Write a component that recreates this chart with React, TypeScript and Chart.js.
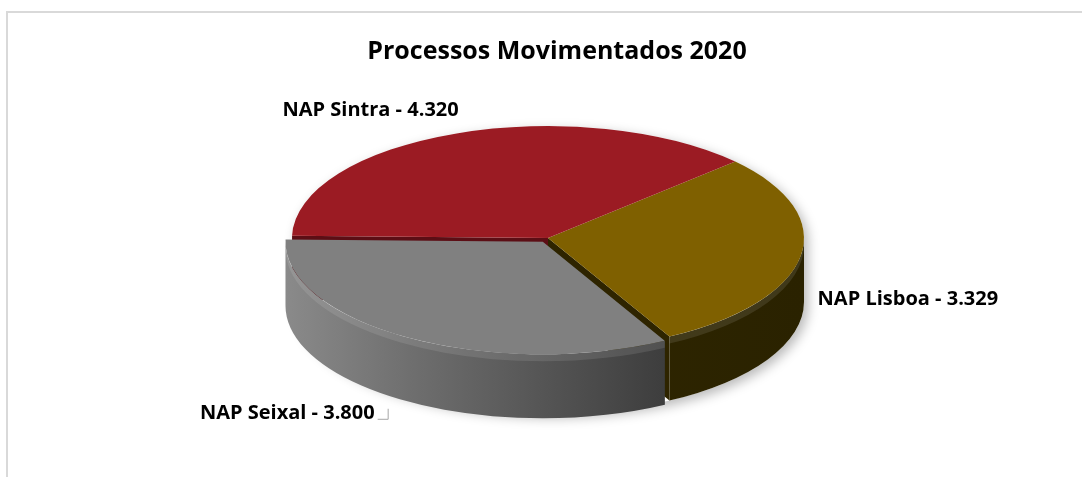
import React, { useEffect, useRef } from "react";
import { Chart, registerables } from "chart.js";

Chart.register(...registerables);

// ---- data ----
const chartTitle = "Processos Movimentados 2020";
const categories = ["NAP Lisboa", "NAP Seixal", "NAP Sintra"];
const processos = [3329, 3800, 4320];

// ---- style ----
const topColors = ["#7F6000", "#808080", "#9B1B23"];
const sideColors = [
  ["#3a2e00", "#2f2600", "#2a2200"],
  ["#8a8a8a", "#6e6e6e", "#555555", "#3c3c3c", "#2c2c2c"],
  ["#5e0f15", "#5a0d13"],
];
const wallColors = ["#2e2400", "#5c5c5c", "#5c0e15"];
const explodeOffsets = [0, 40, 0];
const SQUASH = 0.4375; // vertical ratio of the pie ellipse
const DEPTH = 64; // thickness in px
const PIE_RADIUS = 256;
const FONT = "'Open Sans', 'Liberation Sans', sans-serif";
const labelPlacement = [
  { dx: 17, dy: 49, align: "left", leader: false },
  { dx: -34, dy: 81, align: "right", leader: true },
  { dx: -86, dy: -17, align: "center", leader: false },
];

const fmt = (v: number) => String(v).replace(/\B(?=(\d{3})+(?!\d))/g, ".");

function sliceGeo(arc: any, i: number) {
  const off = (explodeOffsets[i] || 0) / 4;
  const mid = (arc.startAngle + arc.endAngle) / 2;
  const circ = arc.endAngle - arc.startAngle;
  const fix = 1 - Math.sin(Math.min(Math.PI, circ));
  return {
    x: arc.x + Math.cos(mid) * off,
    y: arc.y + Math.sin(mid) * off,
    s: arc.startAngle,
    e: arc.endAngle,
    mid,
    r: arc.outerRadius + off * fix,
  };
}

const pie3d = {
  id: "pie3d",
  beforeDatasetsDraw(chart: any) {
    const meta = chart.getDatasetMeta(0);
    const arcs = meta.data as any[];
    const ctx: CanvasRenderingContext2D = chart.ctx;
    ctx.save();
    if (!arcs.length) return;
    const n = arcs.length;
    const cx = arcs[0].x;
    const cy = arcs[0].y;
    const r0 = arcs[0].outerRadius;
    const ds = DEPTH / SQUASH;
    ctx.translate(cx, cy);
    ctx.scale(1, SQUASH);
    ctx.translate(-cx, -cy);

    // soft shadow under the whole pie
    ctx.save();
    ctx.shadowColor = "rgba(0,0,0,0.28)";
    ctx.shadowBlur = 12;
    ctx.shadowOffsetX = 4;
    ctx.shadowOffsetY = 4;
    ctx.fillStyle = "#ffffff";
    ctx.beginPath();
    ctx.arc(cx, cy, r0, Math.PI, 0, false);
    ctx.arc(cx, cy + ds, r0, 0, Math.PI, false);
    ctx.closePath();
    ctx.fill();
    ctx.restore();

    const geos = arcs.map((a, i) => sliceGeo(a, i));

    // radial walls: only where the neighbouring slice is pulled apart, and facing the viewer
    geos.forEach((g, i) => {
      const prev = (i - 1 + n) % n;
      const next = (i + 1) % n;
      const walls: number[] = [];
      if (Math.cos(g.s) < 0 && explodeOffsets[prev] !== explodeOffsets[i]) walls.push(g.s);
      if (Math.cos(g.e) > 0 && explodeOffsets[next] !== explodeOffsets[i]) walls.push(g.e);
      walls.forEach((a) => {
        const ex = g.x + Math.cos(a) * g.r;
        const ey = g.y + Math.sin(a) * g.r;
        ctx.beginPath();
        ctx.moveTo(g.x, g.y);
        ctx.lineTo(ex, ey);
        ctx.lineTo(ex, ey + ds);
        ctx.lineTo(g.x, g.y + ds);
        ctx.closePath();
        ctx.fillStyle = wallColors[i];
        ctx.fill();
      });
    });

    // outer curved walls (front half only)
    geos.forEach((g, i) => {
      const ranges: [number, number][] = [];
      for (const base of [-2 * Math.PI, 0, 2 * Math.PI]) {
        const a0 = Math.max(g.s, base);
        const a1 = Math.min(g.e, base + Math.PI);
        if (a1 > a0) ranges.push([a0, a1]);
      }
      ranges.forEach(([a0, a1]) => {
        const grad = ctx.createLinearGradient(g.x - g.r, 0, g.x + g.r, 0);
        const stops = sideColors[i];
        stops.forEach((c, k) => grad.addColorStop(stops.length === 1 ? 0 : k / (stops.length - 1), c));
        ctx.beginPath();
        ctx.arc(g.x, g.y, g.r, a0, a1, false);
        ctx.arc(g.x, g.y + ds, g.r, a1, a0, true);
        ctx.closePath();
        ctx.fillStyle = grad;
        ctx.fill();
        // rounded bevel highlight along the top of the side
        ctx.beginPath();
        ctx.arc(g.x, g.y, g.r, a0, a1, false);
        ctx.arc(g.x, g.y + 7 / SQUASH, g.r, a1, a0, true);
        ctx.closePath();
        ctx.fillStyle = "rgba(255,255,255,0.10)";
        ctx.fill();
      });
    });
    // keep transform active so that Chart.js draws the top faces squashed
  },
  afterDatasetsDraw(chart: any) {
    chart.ctx.restore();
  },
  afterDraw(chart: any) {
    const ctx: CanvasRenderingContext2D = chart.ctx;
    const meta = chart.getDatasetMeta(0);
    const arcs = meta.data as any[];
    ctx.save();
    ctx.fillStyle = "#000000";
    ctx.textAlign = "center";
    ctx.textBaseline = "alphabetic";
    ctx.font = `bold 25px ${FONT}`;
    ctx.fillText(chartTitle, chart.width / 2, 59);

    if (arcs.length) {
      const cy = arcs[0].y;
      ctx.font = `bold 20px ${FONT}`;
      arcs.forEach((a, i) => {
        const g = sliceGeo(a, i);
        const px = g.x + Math.cos(g.mid) * g.r;
        const py = cy + (g.y - cy) * SQUASH + Math.sin(g.mid) * g.r * SQUASH;
        const p = labelPlacement[i];
        const text = `${categories[i]} - ${fmt(processos[i])}`;
        const tx = px + p.dx;
        const ty = py + p.dy;
        ctx.textAlign = p.align as CanvasTextAlign;
        ctx.fillStyle = "#000000";
        ctx.fillText(text, tx, ty);
        if (p.leader) {
          ctx.strokeStyle = "#a6a6a6";
          ctx.lineWidth = 1;
          ctx.beginPath();
          ctx.moveTo(tx + 3, ty + 0.5);
          ctx.lineTo(tx + 13.5, ty + 0.5);
          ctx.lineTo(tx + 13.5, ty - 10);
          ctx.stroke();
        }
      });
    }
    ctx.restore();
  },
};

export default function App() {
  const canvasRef = useRef<HTMLCanvasElement | null>(null);

  useEffect(() => {
    const canvas = canvasRef.current;
    if (!canvas) return;
    const chart = new Chart(canvas, {
      type: "pie",
      data: {
        labels: categories,
        datasets: [
          {
            data: processos,
            backgroundColor: topColors,
            borderWidth: 0,
            offset: explodeOffsets,
            radius: PIE_RADIUS,
            clip: false,
          } as any,
        ],
      },
      options: {
        responsive: false,
        animation: false,
        devicePixelRatio: 1,
        rotation: 47,
        events: [],
        layout: { padding: { top: 0, bottom: 1, left: 0, right: 18 } },
        plugins: {
          legend: { display: false },
          tooltip: { enabled: false },
          title: { display: false },
        },
      } as any,
      plugins: [pie3d],
    });
    return () => chart.destroy();
  }, []);

  return (
    <div
      style={{
        position: "fixed",
        left: 0,
        top: 0,
        width: 1082,
        height: 477,
        overflow: "hidden",
        background: "#ffffff",
      }}
    >
      <div
        style={{
          position: "absolute",
          left: 6,
          top: 11,
          width: 1200,
          height: 600,
          borderTop: "2px solid #d9d9d9",
          borderLeft: "2px solid #d9d9d9",
          boxSizing: "border-box",
        }}
      />
      <canvas
        ref={canvasRef}
        width={1114}
        height={477}
        style={{ position: "absolute", left: 0, top: 0, width: 1114, height: 477 }}
      />
    </div>
  );
}
